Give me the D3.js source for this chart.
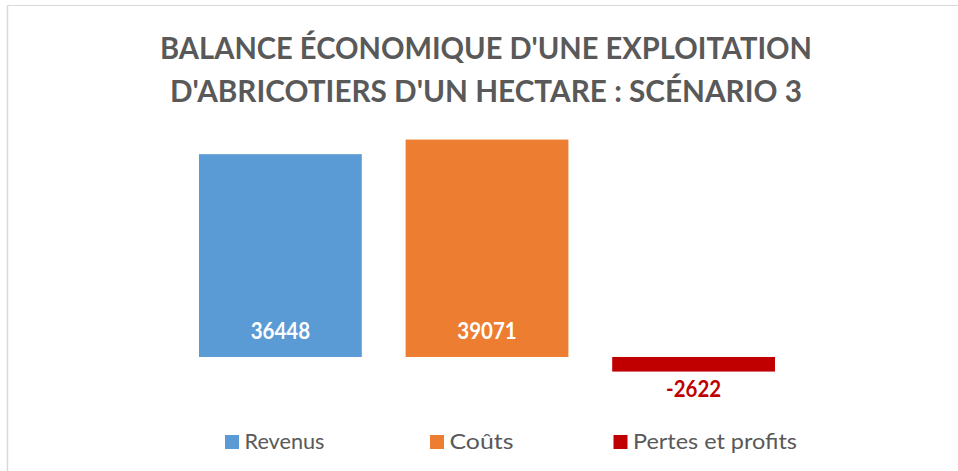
<!DOCTYPE html>
<html>
<head>
<meta charset="utf-8">
<script src="https://cdn.jsdelivr.net/npm/d3@7/dist/d3.min.js"></script>
<style>
  html, body { margin: 0; padding: 0; background: #fff; }
  svg { display: block; }
  text { font-family: Lato, "Open Sans", sans-serif; }
</style>
</head>
<body>
<svg id="chart" width="958" height="471"></svg>
<script>
// ---- data ----
const titleLines = ["BALANCE ÉCONOMIQUE D'UNE EXPLOITATION", "D'ABRICOTIERS D'UN HECTARE : SCÉNARIO 3"];
const series = ["Revenus", "Coûts", "Pertes et profits"];
const values = [36448, 39071, -2622];
const colors = ["#5B9BD5", "#ED7D31", "#C00000"];

// ---- layout ----
const W = 958, H = 471;
const svg = d3.select("#chart");
const gray = "#595959";

// keep font size (for glyph height) and squeeze/stretch to target width
function fit(sel, target) {
  sel.attr("textLength", target).attr("lengthAdjust", "spacingAndGlyphs");
}

// border (top and left visible)
svg.append("line").attr("x1", 7).attr("x2", W).attr("y1", 5.5).attr("y2", 5.5)
  .attr("stroke", "#D9D9D9").attr("stroke-width", 1.2);
svg.append("line").attr("x1", 7.5).attr("x2", 7.5).attr("y1", 5).attr("y2", H)
  .attr("stroke", "#D9D9D9").attr("stroke-width", 1.5);

// title
const titleY = [59, 102];
const titleW = [652, 632];
titleLines.forEach((t, i) => {
  const s = svg.append("text")
    .attr("x", 486).attr("y", titleY[i])
    .attr("text-anchor", "middle")
    .attr("font-weight", 700)
    .attr("font-size", 30)
    .attr("fill", gray)
    .text(t);
  fit(s, titleW[i]);
});

// scales
const x = d3.scaleBand().domain(series).range([199, 775]).paddingInner(0.212).paddingOuter(0);
const y = d3.scaleLinear().domain([-5000, 40000]).range([384.8, 134.4]);

// bars
svg.append("g").selectAll("rect")
  .data(series)
  .join("rect")
  .attr("x", d => x(d))
  .attr("width", x.bandwidth())
  .attr("y", (d, i) => y(Math.max(0, values[i])))
  .attr("height", (d, i) => Math.abs(y(values[i]) - y(0)))
  .attr("fill", (d, i) => colors[i]);

// data labels
series.forEach((d, i) => {
  const v = values[i];
  const s = svg.append("text")
    .attr("x", x(d) + x.bandwidth() / 2)
    .attr("y", v >= 0 ? y(0) - 18 : y(v) + 25)
    .attr("text-anchor", "middle")
    .attr("font-weight", 700)
    .attr("font-size", 22)
    .attr("fill", v >= 0 ? "#FFFFFF" : colors[i])
    .text(String(v));
  fit(s, v >= 0 ? 59.5 : 55);
});

// legend
const legX = [225, 430, 613.5];
const legW = [80, 64, 164];
const leg = svg.append("g");
series.forEach((d, i) => {
  leg.append("rect")
    .attr("x", legX[i]).attr("y", 435)
    .attr("width", 14).attr("height", 14)
    .attr("fill", colors[i]);
  const s = leg.append("text")
    .attr("x", legX[i] + 19.5).attr("y", 449)
    .attr("font-size", 21)
    .attr("fill", gray)
    .text(d);
  fit(s, legW[i]);
});
</script>
</body>
</html>
